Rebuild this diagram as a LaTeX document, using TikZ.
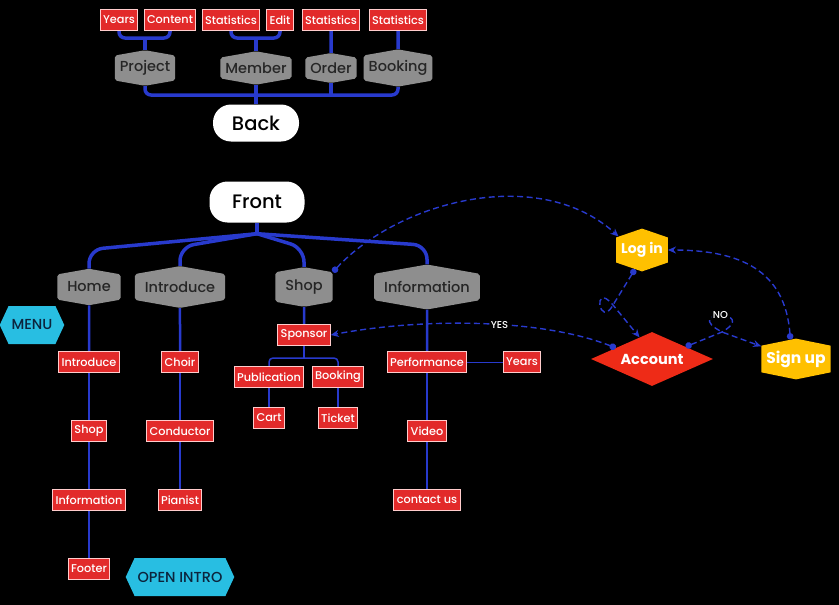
\documentclass[tikz,border=0pt]{standalone}
\usepackage{fontspec}
\setmainfont{Poppins}[UprightFont={* Medium}, BoldFont={* Bold}]
\usetikzlibrary{arrows.meta,positioning,shapes.geometric,shapes.symbols,backgrounds}
\definecolor{treeblue}{RGB}{40,58,205}
\definecolor{hexgray}{RGB}{142,142,142}
\definecolor{boxred}{RGB}{226,42,42}
\definecolor{accred}{RGB}{238,43,23}
\definecolor{menucyan}{RGB}{40,190,226}
\definecolor{signyel}{RGB}{255,192,0}
\definecolor{navy}{RGB}{12,36,60}

\begin{document}
\begin{tikzpicture}[x=1pt, y=-1pt,
  pill/.style={fill=white, rounded corners=18pt, minimum width=86pt, minimum height=37pt,
               font=\fontsize{19.5}{21}\selectfont},
  page/.style={signal, signal to=north and south, signal pointer angle=160, fill=hexgray,
               text=black!85, font=\fontsize{14.5}{16}\selectfont, inner xsep=5pt, inner ysep=5pt,
               rounded corners=2pt},
  menupage/.style={page, inner xsep=10pt, inner ysep=7.5pt},
  item/.style={fill=boxred, draw=white!80!red, line width=1pt, text=white,
               font=\fontsize{11.3}{13}\selectfont, inner xsep=3pt, inner ysep=2pt, minimum height=21pt},
  flag/.style={signal, signal to=east and west, signal pointer angle=130, fill=menucyan,
               text=navy, font=\fontsize{14.5}{17}\selectfont, inner xsep=3pt, minimum height=38pt},
  auth/.style={signal, signal to=north and south, fill=signyel, text=white,
               font=\bfseries\fontsize{14}{16}\selectfont, inner xsep=5pt, inner ysep=5pt},
  tree/.style={draw=treeblue, line width=3.5pt, rounded corners=6pt},
  stem/.style={draw=treeblue, line width=2.5pt},
  twig/.style={draw=treeblue, line width=1.5pt, rounded corners=4pt},
  dsh/.style={draw=treeblue, line width=1.4pt, dash pattern=on 6pt off 3.5pt,
              {Circle[length=6.5pt]}-{Stealth[length=8pt,width=7pt]}},
  tag/.style={fill=black, text=white, font=\fontsize{10}{11}\selectfont, inner sep=1pt}
]
\useasboundingbox (0,0) rectangle (839,605);

% back office
\node[item] (yrs1) at (119,20) {Years};
\node[item] (cnt1) at (170,20) {Content};
\node[item] (st1) at (231,20) {Statistics};
\node[item] (edt) at (280,20) {Edit};
\node[item] (st2) at (331,20) {Statistics};
\node[item] (st3) at (398,20) {Statistics};
\node[page] (prj) at (145,68) {Project};
\node[page] (mem) at (256,68) {Member};
\node[page] (ord) at (331,68) {Order};
\node[page] (bkg) at (398,68) {Booking};
\node[pill] (bck) at (256,123) {Back};

% front site
\node[pill, minimum width=95pt, minimum height=41pt] (frt) at (257,202) {Front};
\node[menupage] (hom) at (89,287) {Home};
\node[menupage] (itr) at (180,287) {Introduce};
\node[menupage] (shp) at (304,287) {Shop};
\node[menupage] (inf) at (427,287) {Information};
\node[flag] (menu) at (32,325) {MENU};
\node[flag] (oin) at (180,577) {OPEN INTRO};

\node[item] (hin) at (89,362) {Introduce};
\node[item] (hsh) at (89,431) {Shop};
\node[item] (hif) at (89,500) {Information};
\node[item] (hft) at (89,569) {Footer};
\node[item] (chr) at (180,362) {Choir};
\node[item] (cnd) at (180,431) {Conductor};
\node[item] (pia) at (180,500) {Pianist};
\node[item] (spn) at (304,335) {Sponsor};
\node[item] (pub) at (269,377) {Publication};
\node[item] (bk2) at (338,377) {Booking};
\node[item] (crt) at (269,418) {Cart};
\node[item] (tkt) at (338,418) {Ticket};
\node[item] (prf) at (427,362) {Performance};
\node[item] (yrs2) at (522,362) {Years};
\node[item] (vid) at (427,431) {Video};
\node[item] (cus) at (427,500) {contact us};

% account
\node[auth, signal pointer angle=142] (lgn) at (642,250) {Log in};
\node[diamond, aspect=2.26, fill=accred, text=white, font=\bfseries\fontsize{14.5}{16}\selectfont,
      minimum width=122pt, minimum height=54pt, inner sep=0pt] (acc) at (652,359) {Account};
\node[auth, signal pointer angle=157, font=\bfseries\fontsize{15.5}{17}\selectfont] (sgu) at (796,359) {Sign up};

\begin{scope}[on background layer]
  \fill[black] (0,0) rectangle (839,605);
  \draw[tree] (yrs1.south) |- (prj.north |- 0,38) -| (cnt1.south);
  \draw[tree] (prj.north) -- (prj.north |- 0,38);
  \draw[tree] (st1.south) |- (mem.north |- 0,38) -| (edt.south);
  \draw[tree] (mem.north) -- (mem.north |- 0,38);
  \draw[tree] (st2) -- (ord);
  \draw[tree] (st3) -- (bkg);
  \draw[tree] (prj.south) |- (bkg.south |- 0,95) -- (bkg.south);
  \draw[tree] (ord.south) -- (ord.south |- 0,95);
  \draw[tree] (mem.south) -- (bck.north);

  \draw[tree] (frt.south) -- ++(0,11) coordinate (hub);
  \foreach \n in {hom,itr,shp,inf}
    \draw[tree, rounded corners=14pt] (hub) -- ([yshift=19pt]\n.north) -- (\n.north);

  \foreach \a/\b in {hom/hin,hin/hsh,hsh/hif,hif/hft,itr/chr,chr/cnd,cnd/pia,
                     shp/spn,inf/prf,prf/vid,vid/cus}
    \draw[stem] (\a) -- (\b);
  \draw[twig] (spn.south) -- ++(0,12) coordinate (sb);
  \draw[twig] (pub.north) |- (sb) -| (bk2.north);
  \draw[twig] (pub) -- (crt);
  \draw[twig] (bk2) -- (tkt);
  \draw[treeblue, line width=1pt] (prf) -- (yrs2);
\end{scope}

\draw[dsh] (shp.north east) .. controls (400,200) and (540,165) .. (lgn.150);
\draw[dsh] (acc.163) .. controls (540,318) and (420,318) .. node[tag, pos=.43] {YES} (spn.east);
\draw[dsh] (lgn.250) -- (613,305) .. controls (599,330) and (592,280) .. (613,305) -- (acc.120);
\draw[dsh] (sgu.106) .. controls (785,270) and (740,250) .. (lgn.east);
\draw[dsh] (acc.20) -- (722,332) .. controls (760,310) and (680,310) .. node[tag, pos=.5] {NO}
  (722,332) -- (sgu.160);
\end{tikzpicture}
\end{document}
